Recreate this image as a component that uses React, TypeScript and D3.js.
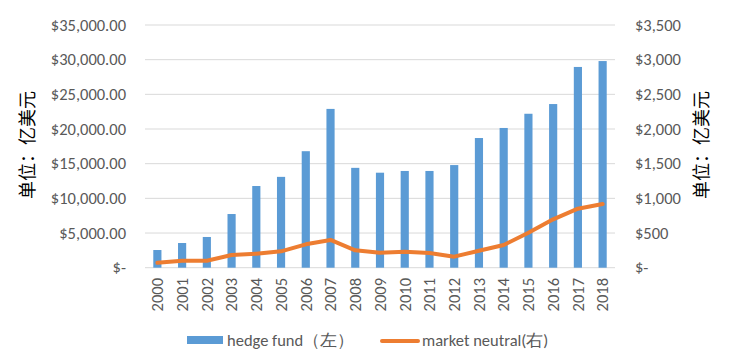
import React from "react";
import * as d3 from "d3";

const years = ["2000", "2001", "2002", "2003", "2004", "2005", "2006", "2007", "2008", "2009", "2010", "2011", "2012", "2013", "2014", "2015", "2016", "2017", "2018"];
const hedgeFund = [2550, 3560, 4430, 7740, 11780, 13100, 16800, 22900, 14400, 13700, 13950, 13950, 14800, 18700, 20150, 22200, 23600, 28950, 29800];
const marketNeutral = [70, 100, 100, 183, 202, 236, 337, 400, 251, 216, 230, 212, 159, 245, 327, 505, 698, 851, 919];
const leftTicks = [0, 5000, 10000, 15000, 20000, 25000, 30000, 35000];
const rightTicks = [0, 500, 1000, 1500, 2000, 2500, 3000, 3500];

const W = 735;
const H = 362;
const left = 145;
const right = 615;
const top = 25;
const bottom = 267.7;
const font = "Calibri, Carlito, 'Liberation Sans', Arial, sans-serif";
const fs = 16.5;
const gray = "#595959";

const fmtLeft = (v: number) => (v === 0 ? "$-" : "$" + d3.format(",.2f")(v));
const fmtRight = (v: number) => (v === 0 ? "$-" : "$" + d3.format(",")(v));

export default function App() {
  const x = d3.scaleBand<string>().domain(years).range([left, right]).padding(0);
  const yL = d3.scaleLinear().domain([0, 35000]).range([bottom, top]);
  const yR = d3.scaleLinear().domain([0, 3500]).range([bottom, top]);
  const bw = x.bandwidth() * 0.33;
  const cx = (yr: string) => (x(yr) as number) + x.bandwidth() / 2;

  const line = d3
    .line<number>()
    .x((_, i) => cx(years[i]))
    .y((d) => yR(d));

  return (
    <svg width={W} height={H} style={{ position: "absolute", left: 0, top: 0 }}>
      <rect width={W} height={H} fill="#fff" />
      {leftTicks.map((t) => (
        <line key={"g" + t} x1={left} x2={right} y1={yL(t)} y2={yL(t)} stroke="#d9d9d9" strokeWidth={1} />
      ))}
      {leftTicks.map((t) => (
        <text key={"l" + t} x={126} y={yL(t)} dy="0.35em" textAnchor="end" fontFamily={font} fontSize={fs} fill={gray}>
          {fmtLeft(t)}
        </text>
      ))}
      {rightTicks.map((t) => (
        <text key={"r" + t} x={635} y={yR(t)} dy="0.35em" textAnchor="start" fontFamily={font} fontSize={fs} fill={gray}>
          {fmtRight(t)}
        </text>
      ))}
      {hedgeFund.map((v, i) => (
        <rect key={"b" + i} x={cx(years[i]) - bw / 2} y={yL(v)} width={bw} height={bottom - yL(v)} fill="#5b9bd5" />
      ))}
      <path d={line(marketNeutral) || ""} fill="none" stroke="#ed7d31" strokeWidth={4} strokeLinejoin="round" strokeLinecap="round" />
      {years.map((yr) => (
        <text key={"x" + yr} transform={`translate(${cx(yr)},278) rotate(-90)`} dy="0.35em" textAnchor="end" fontFamily={font} fontSize={fs} fill={gray}>
          {yr}
        </text>
      ))}
      <text transform="translate(28,145) rotate(-90)" dy="0.35em" textAnchor="middle" fontFamily="'Noto Sans CJK SC', sans-serif" fontSize={18} fontWeight={400} fill="#000">
        单位：亿美元
      </text>
      <text transform="translate(702,145) rotate(-90)" dy="0.35em" textAnchor="middle" fontFamily="'Noto Sans CJK SC', sans-serif" fontSize={18} fontWeight={400} fill="#000">
        单位：亿美元
      </text>
      <rect x={187} y={336} width={36} height={8} fill="#5b9bd5" />
      <text x={227} y={340} dy="0.35em" fontFamily={font} fontSize={fs} fill={gray}>
        hedge fund（左）
      </text>
      <line x1={382} x2={418} y1={341} y2={341} stroke="#ed7d31" strokeWidth={4} strokeLinecap="round" />
      <text x={422} y={340} dy="0.35em" fontFamily={font} fontSize={fs} fill={gray}>
        market neutral(右)
      </text>
    </svg>
  );
}
